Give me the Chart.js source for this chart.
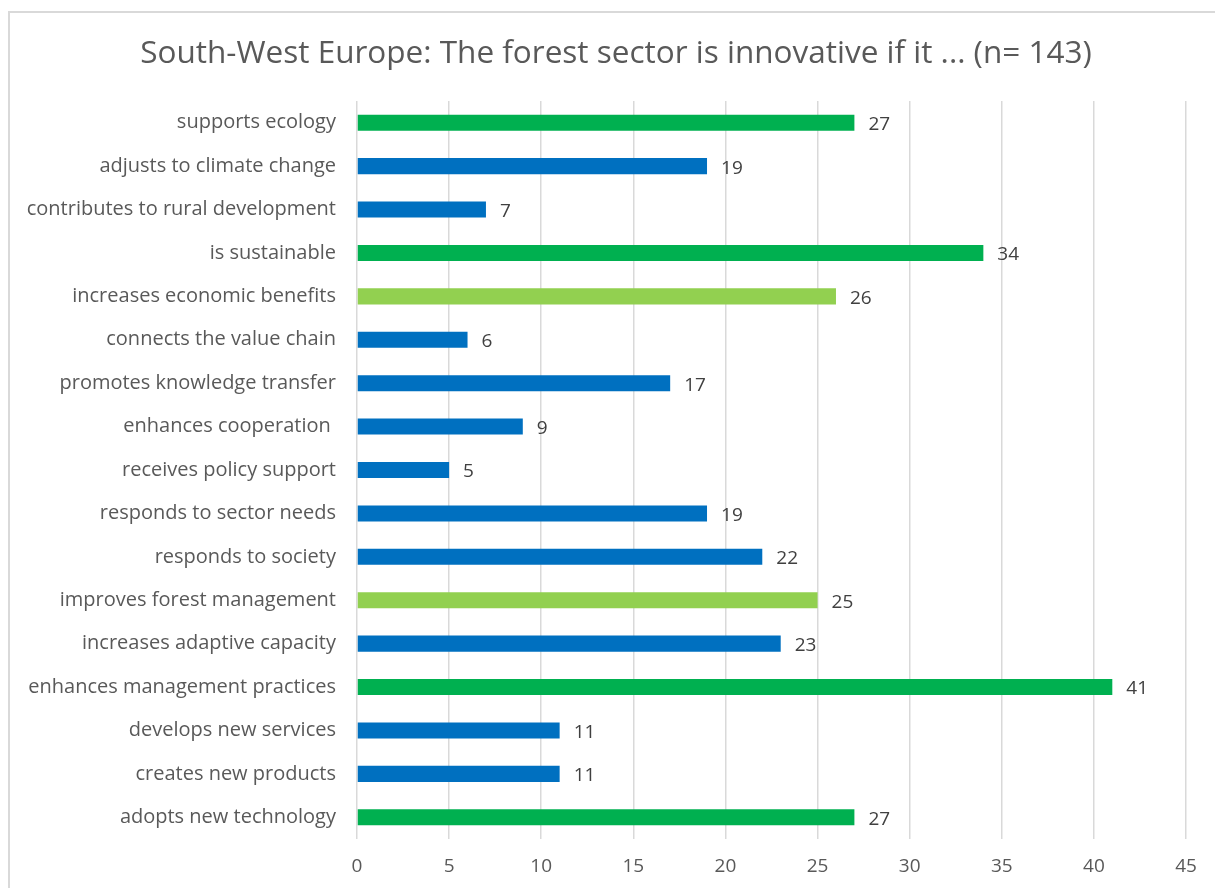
<!DOCTYPE html>
<html>
<head>
<meta charset="utf-8">
<title>South-West Europe: The forest sector is innovative if it ...</title>
<script src="https://cdn.jsdelivr.net/npm/chart.js@4/dist/chart.umd.min.js"></script>
<style>
  html, body { margin: 0; padding: 0; background: #fff; overflow: hidden; }
  #frame { position: absolute; left: 8px; top: 11px; width: 1400px; height: 1000px; border: 2px solid #d9d9d9; }
  #chart { position: absolute; left: 0; top: 0; }
  #title {
    position: absolute; left: 0; top: 31px; width: 1232px; text-align: center;
    font: 31.5px/40px "Open Sans", Lato, sans-serif; color: #595959; white-space: nowrap;
  }
</style>
</head>
<body>
<div id="frame"></div>
<canvas id="chart" width="1215" height="888"></canvas>
<div id="title">South-West Europe: The forest sector is innovative if it ... (n= 143)</div>
<script>
const categories = [
  'supports ecology', 'adjusts to climate change', 'contributes to rural development',
  'is sustainable', 'increases economic benefits', 'connects the value chain',
  'promotes knowledge transfer', 'enhances cooperation ', 'receives policy support',
  'responds to sector needs', 'responds to society', 'improves forest management',
  'increases adaptive capacity', 'enhances management practices', 'develops new services',
  'creates new products', 'adopts new technology'
];
const responses = [27, 19, 7, 34, 26, 6, 17, 9, 5, 19, 22, 25, 23, 41, 11, 11, 27];
// g = top answers, l = second tier, b = the rest
const tiers = ['g','b','b','g','l','b','b','b','b','b','b','l','b','g','b','b','g'];
const xTicks = [0, 5, 10, 15, 20, 25, 30, 35, 40, 45];

const tierColor = { g: '#00B050', l: '#92D050', b: '#0070C0' };
const FONT = '"Open Sans", Lato, sans-serif';

// writes each bar's value just past its end
const valueLabels = {
  id: 'valueLabels',
  afterDatasetsDraw(chart) {
    const ctx = chart.ctx;
    const meta = chart.getDatasetMeta(0);
    ctx.save();
    ctx.font = '19px ' + FONT;
    ctx.fillStyle = '#404040';
    ctx.textAlign = 'left';
    ctx.textBaseline = 'middle';
    meta.data.forEach((bar, i) => {
      ctx.fillText(String(responses[i]), bar.x + 14, bar.y + 2);
    });
    ctx.restore();
  }
};

new Chart(document.getElementById('chart'), {
  type: 'bar',
  data: {
    labels: categories,
    datasets: [{
      data: responses,
      backgroundColor: tiers.map(t => tierColor[t]),
      borderWidth: 0,
      barPercentage: 0.37,
      categoryPercentage: 1
    }]
  },
  options: {
    indexAxis: 'y',
    responsive: false,
    animation: false,
    layout: { padding: { left: 14, right: 29, top: 101, bottom: 0 } },
    plugins: {
      legend: { display: false },
      tooltip: { enabled: false },
      title: { display: false }
    },
    scales: {
      x: {
        min: 0,
        max: 45,
        afterBuildTicks: s => { s.ticks = xTicks.map(v => ({ value: v })); },
        afterFit: s => { s.height = 49; },
        grid: { color: '#d9d9d9', lineWidth: 1.5, drawTicks: false },
        border: { display: false },
        ticks: { color: '#595959', font: { family: FONT, size: 19 }, padding: 16 }
      },
      y: {
        afterFit: s => { s.width = 343; },
        grid: { display: false, drawTicks: false },
        border: { display: false },
        ticks: { color: '#595959', font: { family: FONT, size: 20 }, padding: 21 }
      }
    }
  },
  plugins: [valueLabels]
});
</script>
</body>
</html>
